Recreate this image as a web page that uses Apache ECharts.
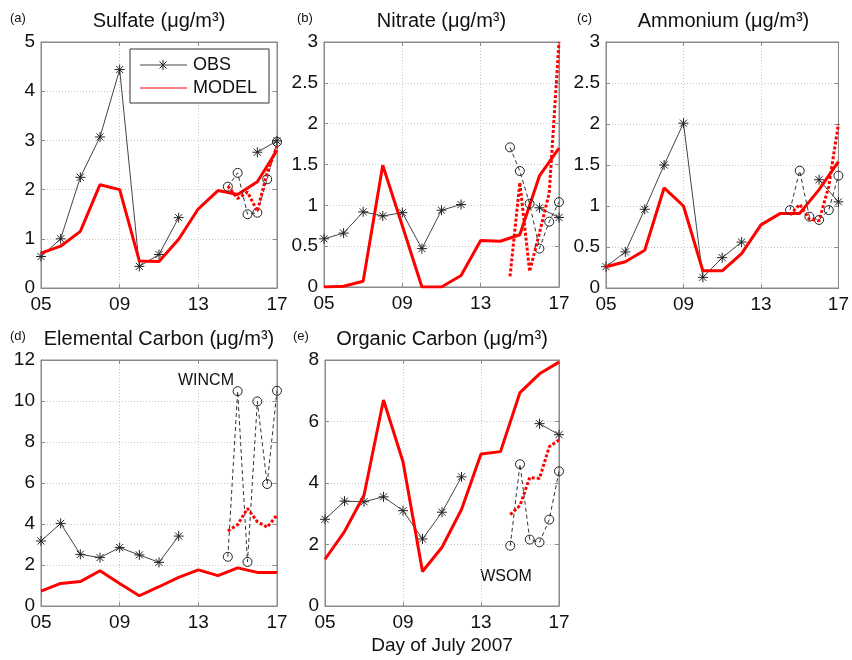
<!DOCTYPE html>
<html>
<head>
<meta charset="utf-8">
<script src="https://cdn.jsdelivr.net/npm/echarts@6/dist/echarts.min.js"></script>
<style>
  html, body { margin: 0; padding: 0; background: #fff; }
  #chart { width: 852px; height: 660px; }
</style>
</head>
<body>
<div id="chart"></div>
<script>
// Days of July 2007: daily values and the 12-hourly samples at the end of the period
const DAYS = [5, 6, 7, 8, 9, 10, 11, 12, 13, 14, 15, 16, 17];
const HALF_DAYS = [14.5, 15, 15.5, 16, 16.5, 17];
const X_TICK_VALUES = [5, 9, 13, 17];
const X_TICK_LABELS = ['05', '09', '13', '17'];
const LEGEND_NAMES = ['OBS', 'MODEL'];

// Sulfate (ug/m3)
const OBS_SULFATE = [0.64, 1.0, 2.25, 3.07, 4.44, 0.44, 0.68, 1.43, null, null, null, 2.76, 2.99];
const MODEL_SULFATE = [0.71, 0.85, 1.15, 2.1, 2.0, 0.55, 0.54, 0.99, 1.61, 1.98, 1.9, 2.16, 2.8];
const OBS12_SULFATE = [2.06, 2.34, 1.5, 1.53, 2.21, 2.97];
const MODEL12_SULFATE = [2.07, 1.82, 1.95, 1.56, 2.35, 2.88];

// Nitrate (ug/m3)
const OBS_NITRATE = [0.59, 0.66, 0.92, 0.87, 0.91, 0.47, 0.94, 1.01, null, null, null, 0.97, 0.85];
const MODEL_NITRATE = [0.0, 0.01, 0.07, 1.49, 0.75, 0.0, 0.0, 0.14, 0.57, 0.56, 0.64, 1.36, 1.7];
const OBS12_NITRATE = [1.71, 1.42, 1.02, 0.47, 0.8, 1.04];
const MODEL12_NITRATE = [0.13, 1.28, 0.19, 0.66, 1.15, 3.0];

// Ammonium (ug/m3)
const OBS_AMMONIUM = [0.26, 0.44, 0.96, 1.5, 2.01, 0.13, 0.37, 0.56, null, null, null, 1.32, 1.05];
const MODEL_AMMONIUM = [0.26, 0.32, 0.46, 1.22, 1.0, 0.21, 0.21, 0.42, 0.77, 0.91, 0.91, 1.2, 1.54];
const OBS12_AMMONIUM = [0.95, 1.43, 0.87, 0.83, 0.95, 1.37];
const MODEL12_AMMONIUM = [0.89, 1.02, 0.84, 0.82, 1.24, 2.0];

// Elemental carbon (ug/m3); 12-hourly observations are WINCM
const OBS_EC = [3.17, 4.03, 2.52, 2.36, 2.85, 2.49, 2.13, 3.41, null, null, null, null, null];
const MODEL_EC = [0.73, 1.1, 1.19, 1.72, 1.1, 0.5, 0.94, 1.4, 1.76, 1.48, 1.86, 1.64, 1.63];
const OBS12_EC = [2.4, 10.48, 2.15, 9.98, 5.95, 10.5];
const MODEL12_EC = [3.66, 3.97, 4.76, 4.11, 3.84, 4.44];

// Organic carbon (ug/m3); 12-hourly observations are WSOM
const OBS_OC = [2.82, 3.41, 3.39, 3.55, 3.1, 2.18, 3.05, 4.2, null, null, null, 5.93, 5.57];
const MODEL_OC = [1.52, 2.42, 3.6, 6.7, 4.69, 1.12, 1.91, 3.14, 4.94, 5.02, 6.94, 7.55, 7.93];
const OBS12_OC = [1.96, 4.61, 2.16, 2.07, 2.81, 4.38];
const MODEL12_OC = [2.97, 3.27, 4.18, 4.15, 5.18, 5.4];

const FONT = '"Liberation Sans", Arial, Helvetica, sans-serif';
const FRAME = '#8a8a8a';
const RED = '#ff0000';

const panels = [
  { tag: '(a)', title: 'Sulfate (μg/m³)', box: { left: 41, top: 42, width: 236, height: 246 }, tagX: 10,
    yMax: 5, yStep: 1, obs: OBS_SULFATE, model: MODEL_SULFATE, obs12: OBS12_SULFATE, model12: MODEL12_SULFATE },
  { tag: '(b)', title: 'Nitrate (μg/m³)', box: { left: 324, top: 42, width: 235, height: 245 }, tagX: 297,
    yMax: 3, yStep: 0.5, obs: OBS_NITRATE, model: MODEL_NITRATE, obs12: OBS12_NITRATE, model12: MODEL12_NITRATE },
  { tag: '(c)', title: 'Ammonium (μg/m³)', box: { left: 606, top: 42, width: 235, height: 246 }, tagX: 577,
    yMax: 3, yStep: 0.5, obs: OBS_AMMONIUM, model: MODEL_AMMONIUM, obs12: OBS12_AMMONIUM, model12: MODEL12_AMMONIUM },
  { tag: '(d)', title: 'Elemental Carbon (μg/m³)', box: { left: 41, top: 360, width: 236, height: 246 }, tagX: 10,
    yMax: 12, yStep: 2, obs: OBS_EC, model: MODEL_EC, obs12: OBS12_EC, model12: MODEL12_EC },
  { tag: '(e)', title: 'Organic Carbon (μg/m³)', box: { left: 325, top: 360, width: 234, height: 246 }, tagX: 293,
    yMax: 8, yStep: 2, obs: OBS_OC, model: MODEL_OC, obs12: OBS12_OC, model12: MODEL12_OC }
];

// asterisk marker drawn with strokes only
const STAR = 'path://M5,0L5,10M0,5L10,5M1.46,1.46L8.54,8.54M1.46,8.54L8.54,1.46';

const pairs = (xs, ys) => xs.map((x, i) => [x, ys[i] == null ? '-' : ys[i]]);

const grids = [], xAxes = [], yAxes = [], series = [], graphics = [];

panels.forEach((p, i) => {
  grids.push(Object.assign({ show: true, borderColor: FRAME, borderWidth: 1, backgroundColor: '#fff', containLabel: false }, p.box));

  const tick = { show: true, inside: true, length: 4, lineStyle: { color: FRAME } };
  const split = { show: true, lineStyle: { color: '#c8c8c8', type: [1, 2], width: 1 } };

  xAxes.push({
    gridIndex: i, type: 'value', min: 5, max: 17, interval: 4, position: 'bottom',
    axisLine: { show: true, onZero: false, lineStyle: { color: FRAME } },
    axisTick: tick, splitLine: split,
    axisLabel: { color: '#111', fontFamily: FONT, fontSize: 19, margin: 7,
      formatter: v => X_TICK_LABELS[X_TICK_VALUES.indexOf(v)] }
  });
  xAxes.push({
    gridIndex: i, type: 'value', min: 5, max: 17, interval: 4, position: 'top',
    axisLine: { show: true, onZero: false, lineStyle: { color: FRAME } },
    axisTick: tick, splitLine: { show: false }, axisLabel: { show: false }
  });
  yAxes.push({
    gridIndex: i, type: 'value', min: 0, max: p.yMax, interval: p.yStep, position: 'left',
    axisLine: { show: true, onZero: false, lineStyle: { color: FRAME } },
    axisTick: tick, splitLine: split,
    axisLabel: { color: '#111', fontFamily: FONT, fontSize: 19, margin: 6 }
  });
  yAxes.push({
    gridIndex: i, type: 'value', min: 0, max: p.yMax, interval: p.yStep, position: 'right',
    axisLine: { show: true, onZero: false, lineStyle: { color: FRAME } },
    axisTick: tick, splitLine: { show: false }, axisLabel: { show: false }
  });

  const ax = { xAxisIndex: 2 * i, yAxisIndex: 2 * i };

  series.push(Object.assign({
    name: LEGEND_NAMES[0], type: 'line', data: pairs(DAYS, p.obs), z: 2,
    symbol: STAR, symbolSize: 10,
    itemStyle: { color: 'rgba(0,0,0,0)', borderColor: '#222', borderWidth: 1 },
    lineStyle: { color: '#444', width: 1 }
  }, ax));
  series.push(Object.assign({
    name: LEGEND_NAMES[1], type: 'line', data: pairs(DAYS, p.model), z: 3,
    symbol: 'none', itemStyle: { color: RED },
    lineStyle: { color: RED, width: 3 }
  }, ax));
  series.push(Object.assign({
    name: 'OBS 12h', type: 'line', data: pairs(HALF_DAYS, p.obs12), z: 4,
    symbol: 'circle', symbolSize: 9,
    itemStyle: { color: 'rgba(0,0,0,0)', borderColor: '#222', borderWidth: 1 },
    lineStyle: { color: '#333', width: 1, type: [4, 3] }
  }, ax));
  series.push(Object.assign({
    name: 'MODEL 12h', type: 'line', data: pairs(HALF_DAYS, p.model12), z: 5,
    symbol: 'none', itemStyle: { color: RED },
    lineStyle: { color: RED, width: 3, type: [3, 2] }
  }, ax));

  graphics.push({
    type: 'text', x: p.box.left + p.box.width / 2, y: p.box.top - 21,
    style: { text: p.title, font: '20px ' + FONT, fill: '#111', textAlign: 'center', textVerticalAlign: 'middle' }
  });
  graphics.push({
    type: 'text', x: p.tagX, y: p.box.top - 24,
    style: { text: p.tag, font: '13px ' + FONT, fill: '#111', textAlign: 'left', textVerticalAlign: 'middle' }
  });
});

// legend box inside the sulfate panel, drawn above the grid lines
const LG = { x: 130, y: 49, w: 139, h: 54 };
const legendParts = [
  { type: 'rect', shape: { x: 0, y: 0, width: LG.w, height: LG.h },
    style: { fill: '#fff', stroke: '#333', lineWidth: 1 } },
  { type: 'line', shape: { x1: 10, y1: 16, x2: 57, y2: 16 }, style: { stroke: '#444', lineWidth: 1 } },
  { type: 'line', shape: { x1: 33, y1: 11, x2: 33, y2: 21 }, style: { stroke: '#222', lineWidth: 1 } },
  { type: 'line', shape: { x1: 29.5, y1: 12.5, x2: 36.5, y2: 19.5 }, style: { stroke: '#222', lineWidth: 1 } },
  { type: 'line', shape: { x1: 29.5, y1: 19.5, x2: 36.5, y2: 12.5 }, style: { stroke: '#222', lineWidth: 1 } },
  { type: 'text', x: 63, y: 16, style: { text: LEGEND_NAMES[0], font: '18px ' + FONT, fill: '#111', textVerticalAlign: 'middle' } },
  { type: 'line', shape: { x1: 10, y1: 39, x2: 57, y2: 39 }, style: { stroke: RED, lineWidth: 1 } },
  { type: 'text', x: 63, y: 39, style: { text: LEGEND_NAMES[1], font: '18px ' + FONT, fill: '#111', textVerticalAlign: 'middle' } }
];
legendParts.forEach((el, k) => { el.z = 100 + k; });
graphics.push({ type: 'group', x: LG.x, y: LG.y, z: 100, children: legendParts });

graphics.push({ type: 'text', x: 206, y: 381,
  style: { text: 'WINCM', font: '16px ' + FONT, fill: '#111', textAlign: 'center', textVerticalAlign: 'middle' } });
graphics.push({ type: 'text', x: 506, y: 577,
  style: { text: 'WSOM', font: '16px ' + FONT, fill: '#111', textAlign: 'center', textVerticalAlign: 'middle' } });
graphics.push({ type: 'text', x: 442, y: 646,
  style: { text: 'Day of July 2007', font: '19px ' + FONT, fill: '#111', textAlign: 'center', textVerticalAlign: 'middle' } });

const chart = echarts.init(document.getElementById('chart'), null, { renderer: 'canvas' });
chart.setOption({
  animation: false,
  backgroundColor: '#fff',
  grid: grids,
  xAxis: xAxes,
  yAxis: yAxes,
  series: series,
  graphic: graphics
});
</script>
</body>
</html>
